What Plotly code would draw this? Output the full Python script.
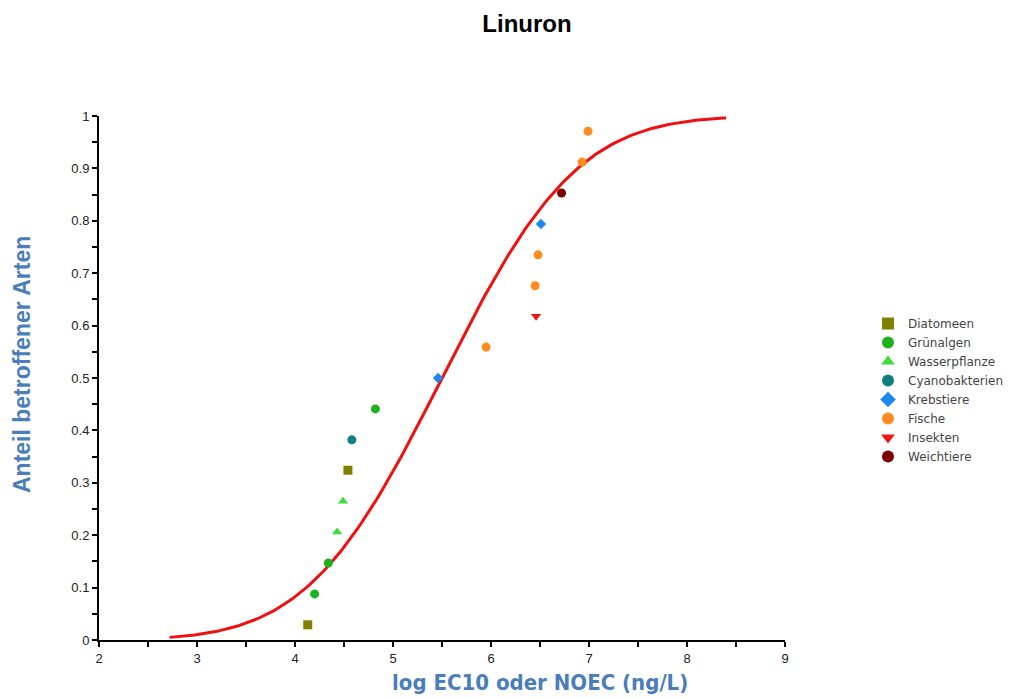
import math
import plotly.graph_objects as go

# ---- data ----
groups = ["Diatomeen", "Grünalgen", "Wasserpflanze", "Cyanobakterien",
          "Krebstiere", "Fische", "Insekten", "Weichtiere"]
group_x = {
    "Diatomeen": [4.13, 4.54],
    "Grünalgen": [4.20, 4.34, 4.82],
    "Wasserpflanze": [4.43, 4.49],
    "Cyanobakterien": [4.58],
    "Krebstiere": [5.46, 6.51],
    "Fische": [5.95, 6.45, 6.48, 6.93, 6.99],
    "Insekten": [6.46],
    "Weichtiere": [6.72],
}
group_y = {
    "Diatomeen": [0.029, 0.324],
    "Grünalgen": [0.088, 0.147, 0.441],
    "Wasserpflanze": [0.206, 0.265],
    "Cyanobakterien": [0.382],
    "Krebstiere": [0.500, 0.794],
    "Fische": [0.559, 0.676, 0.735, 0.912, 0.971],
    "Insekten": [0.618],
    "Weichtiere": [0.853],
}
group_color = {
    "Diatomeen": "#808000",
    "Grünalgen": "#1db31d",
    "Wasserpflanze": "#3ddc3d",
    "Cyanobakterien": "#0e8080",
    "Krebstiere": "#1e88f0",
    "Fische": "#ff8c1e",
    "Insekten": "#f21414",
    "Weichtiere": "#7a0000",
}
group_symbol = {
    "Diatomeen": "square",
    "Grünalgen": "circle",
    "Wasserpflanze": "triangle-up",
    "Cyanobakterien": "circle",
    "Krebstiere": "diamond",
    "Fische": "circle",
    "Insekten": "triangle-down",
    "Weichtiere": "circle",
}
group_size = {
    "Diatomeen": 9, "Grünalgen": 9, "Wasserpflanze": 9, "Cyanobakterien": 9,
    "Krebstiere": 8, "Fische": 9, "Insekten": 9, "Weichtiere": 9,
}

# fitted log-normal species sensitivity distribution
fit_mu = 5.5
fit_sigma = 1.08
fit_xmin, fit_xmax = 2.72, 8.4

x_ticks = [2, 3, 4, 5, 6, 7, 8, 9]
y_ticks = [0, 0.1, 0.2, 0.3, 0.4, 0.5, 0.6, 0.7, 0.8, 0.9, 1]
y_tick_text = ["0", "0.1", "0.2", "0.3", "0.4", "0.5", "0.6", "0.7", "0.8", "0.9", "1"]

# ---- figure ----
n = 200
cx = [fit_xmin + (fit_xmax - fit_xmin) * i / (n - 1) for i in range(n)]
cy = [0.5 * (1 + math.erf((v - fit_mu) / (fit_sigma * math.sqrt(2)))) for v in cx]

fig = go.Figure()
fig.add_trace(go.Scatter(x=cx, y=cy, mode="lines", line=dict(color="#f01010", width=3),
                         showlegend=False, hoverinfo="skip"))
for g in groups:
    fig.add_trace(go.Scatter(
        x=group_x[g], y=group_y[g], mode="markers", name=g,
        marker=dict(symbol=group_symbol[g], color=group_color[g], size=group_size[g],
                    line=dict(width=0)),
    ))

axis_common = dict(
    showgrid=False, zeroline=False, showline=True, linecolor="black", linewidth=2,
    ticks="outside", ticklen=5, tickwidth=2, tickcolor="black",
    tickfont=dict(family="Liberation Sans, Arial, sans-serif", size=13, color="#222"),
)
fig.update_xaxes(range=[2, 9], tickvals=x_ticks, ticktext=[str(t) for t in x_ticks],
                 minor=dict(dtick=0.5, tick0=2, ticks="outside", ticklen=5, tickwidth=2,
                            tickcolor="black"),
                 **axis_common)
fig.update_yaxes(range=[0, 1], tickvals=y_ticks, ticktext=y_tick_text,
                 minor=dict(dtick=0.05, tick0=0, ticks="outside", ticklen=5, tickwidth=2,
                            tickcolor="black"),
                 **axis_common)

fig.update_layout(
    width=1016, height=698,
    margin=dict(l=91, r=239, t=108, b=66),
    paper_bgcolor="white", plot_bgcolor="white",
    title=dict(text="<b>Linuron</b>", x=519 / 1016, xanchor="center", y=1 - 16 / 698,
               yanchor="middle",
               font=dict(family="Liberation Sans, Arial, sans-serif", size=24, color="black")),
    legend=dict(x=(860 - 91) / 686, xanchor="left", y=(632 - 301) / 524, yanchor="top",
                font=dict(family="DejaVu Sans, sans-serif", size=12, color="#444"),
                bgcolor="rgba(0,0,0,0)", tracegroupgap=0, itemsizing="constant"),
    annotations=[
        dict(text="<b>log EC10 oder NOEC (ng/L)</b>", xref="paper", yref="paper",
             x=(532 - 91) / 686, y=-(674 - 632) / 524, xanchor="center", yanchor="middle",
             showarrow=False,
             font=dict(family="DejaVu Sans Condensed, Liberation Sans Narrow, sans-serif",
                       size=22, color="#4a7ebb")),
        dict(text="<b>Anteil betroffener Arten</b>", xref="paper", yref="paper",
             x=-(91 - 14) / 686, y=(632 - 357) / 524, xanchor="center", yanchor="middle",
             textangle=-90, showarrow=False,
             font=dict(family="Liberation Sans, Arial, sans-serif", size=23, color="#4a7ebb")),
    ],
)

fig.write_html("out.html")
